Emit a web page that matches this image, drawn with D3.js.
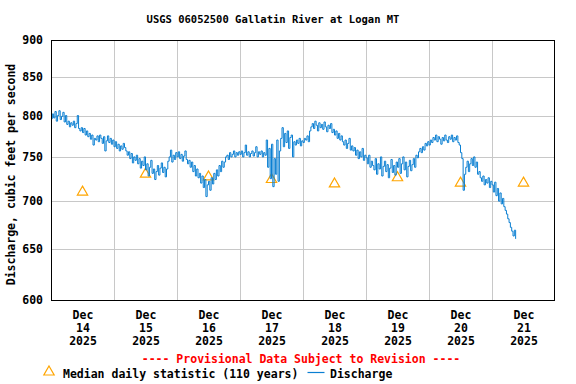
<!DOCTYPE html>
<html><head><meta charset="utf-8">
<script src="https://cdn.jsdelivr.net/npm/d3@7"></script>
<style>
html,body{margin:0;padding:0;background:#fff;}
svg{display:block;}
text{font-family:"DejaVu Sans Mono","Liberation Mono",monospace;font-weight:bold;}
</style></head><body>
<svg id="c" width="576" height="384"></svg>
<script>
const title = "USGS 06052500 Gallatin River at Logan MT";
const yLabel = "Discharge, cubic feet per second";
const provisional = "---- Provisional Data Subject to Revision ----";
const legendMedian = "Median daily statistic (110 years)";
const legendDischarge = "Discharge";

// discharge, cfs, every 30 minutes from Dec 14 2025 00:00
const startTime = Date.UTC(2025, 11, 14, 0, 0);
const stepMinutes = 30;
const discharge = [
 796,802,797,805,793,800,806,795,799,804,792,800,789,793,786,791,788,793,785,790,800,784,781,785,
 779,784,776,781,774,778,771,776,764,772,770,775,768,776,772,766,774,757,769,775,767,772,765,770,
 762,768,760,765,757,763,759,766,761,757,752,756,748,754,743,750,746,752,742,748,737,745,740,750,
 735,742,728,738,746,731,736,724,733,740,729,737,743,732,738,727,736,745,750,758,744,752,747,755,
 750,756,748,753,745,751,757,747,742,746,738,744,733,740,728,736,726,731,720,728,715,724,705,718,
 722,712,726,719,731,724,735,728,740,733,745,738,744,750,752,747,755,750,753,757,750,755,752,756,
 753,757,750,755,764,752,756,750,754,757,751,755,762,750,756,753,757,750,755,752,770,738,760,725,
 765,716,748,730,770,722,757,772,785,762,778,767,781,760,773,776,750,768,764,770,766,772,763,769,
 767,772,770,775,768,781,786,790,784,793,788,781,791,785,789,783,792,786,780,788,784,790,779,783,
 776,781,772,778,770,775,768,764,770,760,766,772,758,763,757,761,752,758,748,756,750,760,746,752,
 749,742,752,738,745,740,735,748,730,742,736,750,728,739,745,733,741,726,737,747,732,740,729,744,
 738,748,731,742,750,735,744,727,739,746,734,741,748,738,752,749,756,760,755,762,758,766,763,768,
 764,770,767,773,770,776,768,774,771,765,773,769,776,770,767,774,771,776,768,773,770,775,767,764,
 755,748,712,730,738,745,733,742,748,740,750,738,744,730,733,726,722,728,718,724,720,726,715,722,
 718,710,721,706,714,700,709,697,703,694,690,686,681,677,672,668,663,669,660
];

// median daily statistic, plotted at noon of each day
const medianDays = [14, 15, 16, 17, 18, 19, 20, 21];
const medianValues = [710, 730, 727, 724, 719, 726, 720, 720];

const xTickMonth = "Dec";
const xTickDays = ["14", "15", "16", "17", "18", "19", "20", "21"];
const xTickYear = "2025";
const yTicks = [600, 650, 700, 750, 800, 850, 900];

const svg = d3.select("#c");
const L = 51, R = 555, T = 40, B = 300;

const x = d3.scaleUtc()
  .domain([new Date(Date.UTC(2025, 11, 14)), new Date(Date.UTC(2025, 11, 22))])
  .range([L, R]);
const y = d3.scaleLog().domain([600, 900]).range([B, T]);

// gridlines
const grid = svg.append("g").attr("stroke", "#c8c8c8").attr("stroke-width", 1).attr("shape-rendering", "crispEdges");
grid.selectAll("line.h").data(yTicks.filter(v => v > 600 && v < 900)).join("line")
  .attr("x1", L).attr("x2", R)
  .attr("y1", d => Math.round(y(d)) + 0.5).attr("y2", d => Math.round(y(d)) + 0.5);
const dayBounds = d3.range(15, 22).map(d => new Date(Date.UTC(2025, 11, d)));
grid.selectAll("line.v").data(dayBounds).join("line")
  .attr("y1", T).attr("y2", B)
  .attr("x1", d => Math.round(x(d)) + 0.5).attr("x2", d => Math.round(x(d)) + 0.5);

// median triangles
const tri = d3.symbol().type(d3.symbolTriangle).size(46);
svg.append("g").selectAll("path").data(medianDays).join("path")
  .attr("d", tri)
  .attr("transform", (d, i) => `translate(${x(new Date(Date.UTC(2025, 11, d, 12)))},${y(medianValues[i])})`)
  .attr("fill", "none").attr("stroke", "#ffa500").attr("stroke-width", 1.2);

// discharge line
const pts = discharge.map((v, i) => ({t: new Date(startTime + i * stepMinutes * 60000), v}));
const line = d3.line().x(d => x(d.t)).y(d => y(d.v)).curve(d3.curveStepAfter);
svg.append("path").datum(pts).attr("d", line)
  .attr("fill", "none").attr("stroke", "#0a7fd2").attr("stroke-width", 1);

// frame
svg.append("rect").attr("x", L + 0.5).attr("y", T + 0.5).attr("width", R - L - 1).attr("height", B - T)
  .attr("fill", "none").attr("stroke", "#000").attr("stroke-width", 1).attr("shape-rendering", "crispEdges");

// y axis
const yAxis = svg.append("g").attr("transform", `translate(${L},0)`)
  .call(d3.axisLeft(y).tickValues(yTicks).tickFormat(d3.format("d")).tickSize(0).tickPadding(8));
yAxis.select(".domain").remove();
yAxis.selectAll("text").attr("font-size", 11.5).attr("font-family", null).attr("fill", "#000");

// x axis
const noonTicks = medianDays.map(d => new Date(Date.UTC(2025, 11, d, 12)));
const xAxis = svg.append("g").attr("transform", `translate(0,${B})`)
  .call(d3.axisBottom(x).tickValues(noonTicks).tickSize(0).tickFormat(() => ""));
xAxis.select(".domain").remove();
xAxis.selectAll(".tick text").each(function(d, i) {
  const t = d3.select(this).attr("font-size", 11.5).attr("font-family", null).attr("fill", "#000").attr("y", 0).attr("dy", null);
  [xTickMonth, xTickDays[i], xTickYear].forEach((s, k) => {
    t.append("tspan").attr("x", 0).attr("y", 18.5 + k * 13.3).text(s);
  });
});

// title
svg.append("text").attr("x", 273).attr("y", 23).attr("text-anchor", "middle")
  .attr("font-size", 10.5).text(title);

// y label
svg.append("text").attr("transform", "translate(15,174.5) rotate(-90)")
  .attr("text-anchor", "middle").attr("font-size", 11.5).text(yLabel);

// provisional
svg.append("text").attr("x", 301).attr("y", 362.5).attr("text-anchor", "middle")
  .attr("font-size", 11.5).attr("fill", "#ff0000").text(provisional);

// legend
svg.append("path").attr("d", tri).attr("transform", "translate(49,372)")
  .attr("fill", "none").attr("stroke", "#ffa500").attr("stroke-width", 1.2);
svg.append("text").attr("x", 63).attr("y", 377.5).attr("font-size", 11.5).text(legendMedian);
svg.append("line").attr("x1", 307.5).attr("x2", 324.5).attr("y1", 372.5).attr("y2", 372.5)
  .attr("stroke", "#0a7fd2").attr("stroke-width", 1.2);
svg.append("text").attr("x", 330).attr("y", 377.5).attr("font-size", 11.5).text(legendDischarge);
</script>
</body></html>
